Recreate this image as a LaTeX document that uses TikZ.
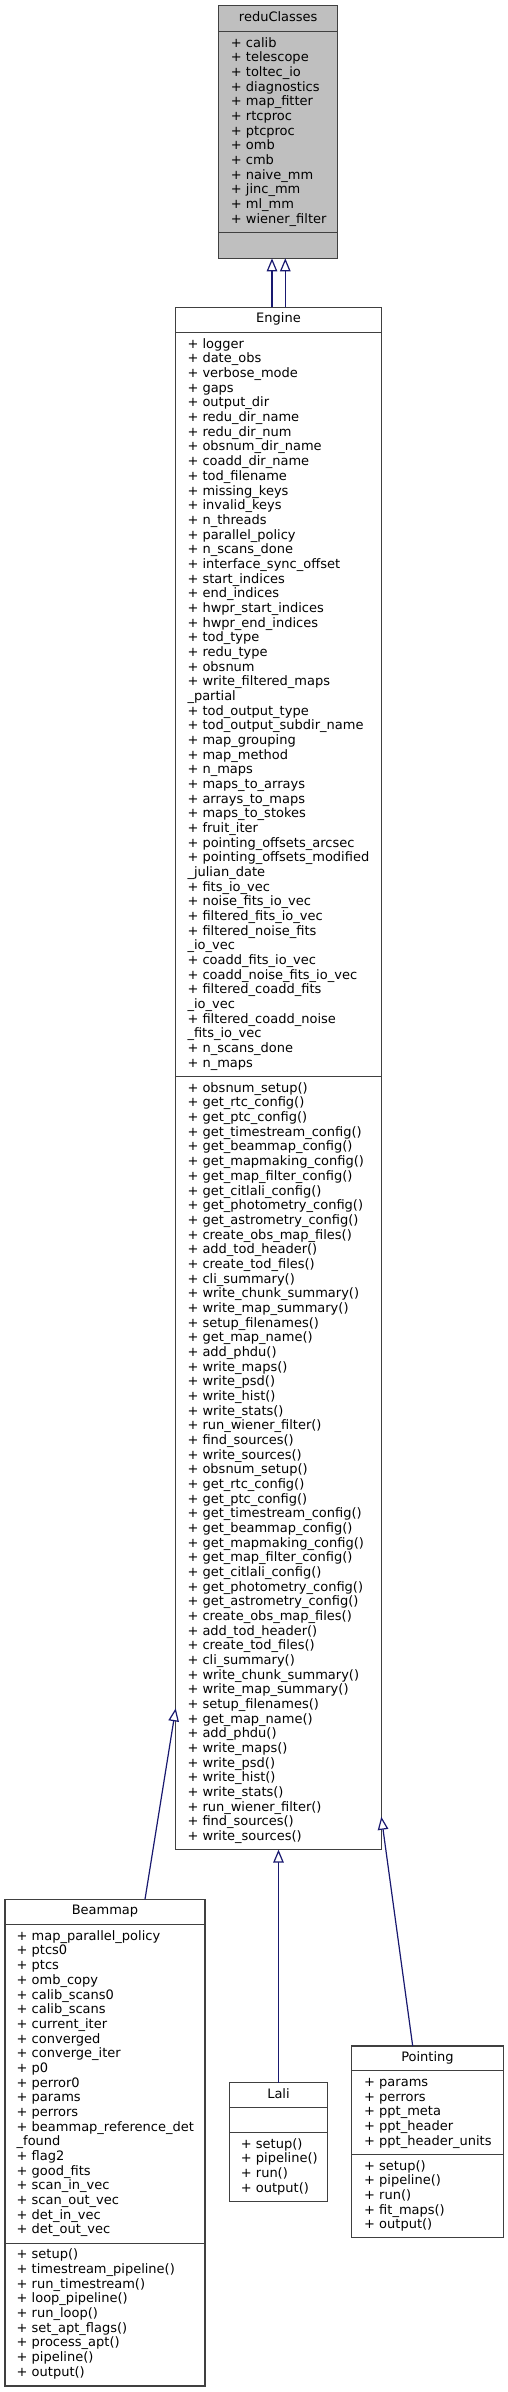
\documentclass[tikz,border=0pt]{standalone}
\usepackage{fontspec}
\setmainfont{DejaVu Sans}
\usetikzlibrary{arrows.meta}
\definecolor{boxborder}{RGB}{64,64,64}
\definecolor{redufill}{RGB}{191,191,191}
\definecolor{edgeblue}{RGB}{25,25,112}
\tikzset{
  cls/.style={draw=boxborder, line width=1.3pt, anchor=north west, inner sep=0pt, outer sep=0pt, fill=white},
  divline/.style={draw=boxborder, line width=1.3pt},
  ttl/.style={anchor=base, inner sep=0pt},
  mem/.style={anchor=base west, inner sep=0pt},
  inh/.style={draw=edgeblue, line width=1.2pt, -{Triangle[open, length=13pt, width=10.5pt, fill=white]}},
}
\newcommand{\pitch}{14.67}
\begin{document}
\begin{tikzpicture}[x=1pt, y=1pt, font=\fontsize{13}{14.67}\selectfont]
\fill[white] (0,0) rectangle (507,-2392);
\useasboundingbox (0,0) rectangle (507,-2392);

% ---------------- reduClasses
\node[cls, fill=redufill, minimum width=119pt, minimum height=252.6pt] (redu) at (218.7,-5.7) {};
\draw[divline] ([yshift=-26pt]redu.north west) -- ([yshift=-26pt]redu.north east);
\draw[divline] ([yshift=-227pt]redu.north west) -- ([yshift=-227pt]redu.north east);
\node[ttl] (redu-t) at ([yshift=-16pt]redu.north) {reduClasses};
\foreach \t [count=\i from 0] in {+ calib, + telescope, + toltec\_io, + diagnostics, + map\_fitter, + rtcproc, + ptcproc, + omb, + cmb, + naive\_mm, + jinc\_mm, + ml\_mm, + wiener\_filter}
  \node[mem] (redu-a\i) at ([xshift=12pt, yshift=-41.5pt-\i*\pitch pt]redu.north west) {\t};

% ---------------- Engine
\node[cls, minimum width=205.6pt, minimum height=1542.3pt] (eng) at (175.7,-307.3) {};
\draw[divline] ([yshift=-25pt]eng.north west) -- ([yshift=-25pt]eng.north east);
\draw[divline] ([yshift=-769.4pt]eng.north west) -- ([yshift=-769.4pt]eng.north east);
\node[ttl] (eng-t) at ([yshift=-15.5pt]eng.north) {Engine};
\foreach \t [count=\i from 0] in {+ logger, + date\_obs, + verbose\_mode, + gaps, + output\_dir, + redu\_dir\_name, + redu\_dir\_num, + obsnum\_dir\_name, + coadd\_dir\_name, + tod\_filename, + missing\_keys, + invalid\_keys, + n\_threads, + parallel\_policy, + n\_scans\_done, + interface\_sync\_offset, + start\_indices, + end\_indices, + hwpr\_start\_indices, + hwpr\_end\_indices, + tod\_type, + redu\_type, + obsnum, + write\_filtered\_maps, \_partial, + tod\_output\_type, + tod\_output\_subdir\_name, + map\_grouping, + map\_method, + n\_maps, + maps\_to\_arrays, + arrays\_to\_maps, + maps\_to\_stokes, + fruit\_iter, + pointing\_offsets\_arcsec, + pointing\_offsets\_modified, \_julian\_date, + fits\_io\_vec, + noise\_fits\_io\_vec, + filtered\_fits\_io\_vec, + filtered\_noise\_fits, \_io\_vec, + coadd\_fits\_io\_vec, + coadd\_noise\_fits\_io\_vec, + filtered\_coadd\_fits, \_io\_vec, + filtered\_coadd\_noise, \_fits\_io\_vec, + n\_scans\_done, + n\_maps}
  \node[mem] (eng-a\i) at ([xshift=11.6pt, yshift=-41pt-\i*\pitch pt]eng.north west) {\t};
\foreach \t [count=\i from 0] in {+ obsnum\_setup(), + get\_rtc\_config(), + get\_ptc\_config(), + get\_timestream\_config(), + get\_beammap\_config(), + get\_mapmaking\_config(), + get\_map\_filter\_config(), + get\_citlali\_config(), + get\_photometry\_config(), + get\_astrometry\_config(), + create\_obs\_map\_files(), + add\_tod\_header(), + create\_tod\_files(), + cli\_summary(), + write\_chunk\_summary(), + write\_map\_summary(), + setup\_filenames(), + get\_map\_name(), + add\_phdu(), + write\_maps(), + write\_psd(), + write\_hist(), + write\_stats(), + run\_wiener\_filter(), + find\_sources(), + write\_sources(), + obsnum\_setup(), + get\_rtc\_config(), + get\_ptc\_config(), + get\_timestream\_config(), + get\_beammap\_config(), + get\_mapmaking\_config(), + get\_map\_filter\_config(), + get\_citlali\_config(), + get\_photometry\_config(), + get\_astrometry\_config(), + create\_obs\_map\_files(), + add\_tod\_header(), + create\_tod\_files(), + cli\_summary(), + write\_chunk\_summary(), + write\_map\_summary(), + setup\_filenames(), + get\_map\_name(), + add\_phdu(), + write\_maps(), + write\_psd(), + write\_hist(), + write\_stats(), + run\_wiener\_filter(), + find\_sources(), + write\_sources()}
  \node[mem] (eng-m\i) at ([xshift=11.6pt, yshift=-785pt-\i*\pitch pt]eng.north west) {\t};

% ---------------- Beammap
\node[cls, minimum width=200pt, minimum height=486.7pt] (beam) at (5,-1899.3) {};
\draw[divline] ([yshift=-25pt]beam.north west) -- ([yshift=-25pt]beam.north east);
\draw[divline] ([yshift=-344pt]beam.north west) -- ([yshift=-344pt]beam.north east);
\node[ttl] (beam-t) at ([yshift=-15.5pt]beam.north) {Beammap};
\foreach \t [count=\i from 0] in {+ map\_parallel\_policy, + ptcs0, + ptcs, + omb\_copy, + calib\_scans0, + calib\_scans, + current\_iter, + converged, + converge\_iter, + p0, + perror0, + params, + perrors, + beammap\_reference\_det, \_found, + flag2, + good\_fits, + scan\_in\_vec, + scan\_out\_vec, + det\_in\_vec, + det\_out\_vec}
  \node[mem] (beam-a\i) at ([xshift=11.5pt, yshift=-41pt-\i*\pitch pt]beam.north west) {\t};
\foreach \t [count=\i from 0] in {+ setup(), + timestream\_pipeline(), + run\_timestream(), + loop\_pipeline(), + run\_loop(), + set\_apt\_flags(), + process\_apt(), + pipeline(), + output()}
  \node[mem] (beam-m\i) at ([xshift=11.5pt, yshift=-359.5pt-\i*\pitch pt]beam.north west) {\t};

% ---------------- Lali
\node[cls, minimum width=98.4pt, minimum height=119pt] (lali) at (229.3,-2082.7) {};
\draw[divline] ([yshift=-24.6pt]lali.north west) -- ([yshift=-24.6pt]lali.north east);
\draw[divline] ([yshift=-50pt]lali.north west) -- ([yshift=-50pt]lali.north east);
\node[ttl] (lali-t) at ([yshift=-15.5pt]lali.north) {Lali};
\foreach \t [count=\i from 0] in {+ setup(), + pipeline(), + run(), + output()}
  \node[mem] (lali-m\i) at ([xshift=11.4pt, yshift=-65.5pt-\i*\pitch pt]lali.north west) {\t};

% ---------------- Pointing
\node[cls, minimum width=151.5pt, minimum height=191.8pt] (point) at (351.7,-2046) {};
\draw[divline] ([yshift=-24.7pt]point.north west) -- ([yshift=-24.7pt]point.north east);
\draw[divline] ([yshift=-108.5pt]point.north west) -- ([yshift=-108.5pt]point.north east);
\node[ttl] (point-t) at ([yshift=-15.5pt]point.north) {Pointing};
\foreach \t [count=\i from 0] in {+ params, + perrors, + ppt\_meta, + ppt\_header, + ppt\_header\_units}
  \node[mem] (point-a\i) at ([xshift=12.3pt, yshift=-40.5pt-\i*\pitch pt]point.north west) {\t};
\foreach \t [count=\i from 0] in {+ setup(), + pipeline(), + run(), + fit\_maps(), + output()}
  \node[mem] (point-m\i) at ([xshift=12.3pt, yshift=-124pt-\i*\pitch pt]point.north west) {\t};

% ---------------- inheritance edges
\draw[inh] ([xshift=96.3pt]eng.north west) -- ([xshift=53.3pt]redu.south west);
\draw[inh] ([xshift=109.6pt]eng.north west) -- ([xshift=66.6pt]redu.south west);
\draw[inh] ([xshift=140pt]beam.north west) -- ([yshift=-1401pt]eng.north west);
\draw[inh] (lali.north) -- (lali.north |- eng.south);
\draw[inh] ([xshift=61pt]point.north west) -- ([yshift=-1509.4pt]eng.north east);
\end{tikzpicture}
\end{document}
